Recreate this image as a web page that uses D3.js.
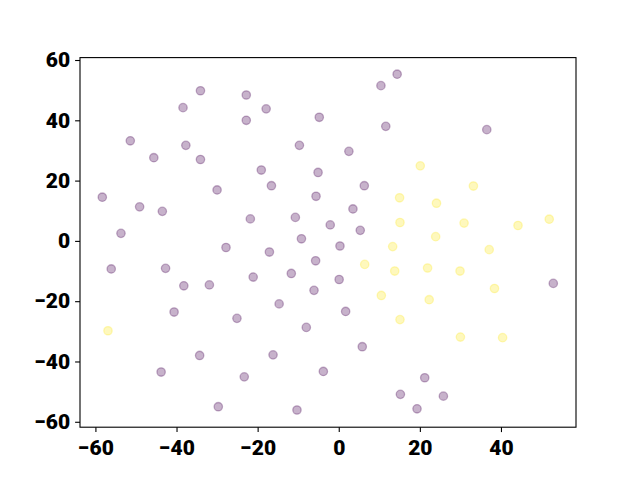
<!DOCTYPE html>
<html lang="en">
<head>
    <meta charset="UTF-8">
    <title>Scatter</title>
    <style>
        body { margin: 0; background: #fff; }
        svg { display: block; }
        .tick text { font-family: Roboto, "DejaVu Sans", sans-serif; font-weight: 900; font-size: 21px; fill: #000; }
    </style>
</head>
<body>
    <div id="container"></div>
    <script src="https://cdn.jsdelivr.net/npm/d3@7"></script>
    <script>
        // Class 0 points (purple)
        var purpleX = [-34.1, -38.4, -22.8, -17.9, -22.8, -51.4, -37.7, -45.6, -34.1, -9.7,
            -19.1, -16.6, -30.0, -58.3, -49.1, -43.5, -21.8, -10.7, -9.2, -53.7,
            14.4, 10.4, -4.8, 11.6, 36.5, 2.5, -5.1, 6.3, -5.6, 3.5, -2.1, 5.3,
            -56.1, -42.7, -27.8, -17.1, -11.7, -21.1, -38.2, -31.9, -14.7, -40.6,
            -25.1, -8.0, -34.3, -16.2, -43.8, -23.3, -29.7, -10.3,
            0.3, -5.7, 0.1, -6.1, 1.7, 5.8, -3.8, 21.2, 15.2, 25.8, 19.3, 52.9];
        var purpleY = [49.8, 44.2, 48.4, 43.8, 40.0, 33.2, 31.7, 27.6, 27.0, 31.7,
            23.5, 18.3, 16.9, 14.5, 11.3, 9.8, 7.3, 7.8, 0.7, 2.5,
            55.3, 51.5, 41.0, 38.0, 36.9, 29.7, 22.7, 18.3, 14.8, 10.6, 5.3, 3.5,
            -9.3, -9.1, -2.2, -3.7, -10.8, -12.0, -14.9, -14.6, -20.9, -23.6,
            -25.7, -28.7, -38.0, -37.8, -43.5, -45.1, -55.0, -56.1,
            -1.7, -6.6, -12.8, -16.4, -23.4, -35.1, -43.3, -45.4, -50.9, -51.5, -55.7, -14.1];

        // Class 1 points (yellow)
        var yellowX = [20.1, 33.2, 15.0, 24.1, 15.1, 30.9, 44.2, 51.9, 23.9, -56.9,
            13.3, 37.1, 6.4, 13.8, 21.9, 29.9, 38.4, 10.5, 22.3, 15.1, 30.0, 40.4];
        var yellowY = [24.9, 18.2, 14.3, 12.5, 6.1, 5.9, 5.1, 7.2, 1.4, -29.8,
            -1.9, -2.9, -7.8, -10.0, -9.0, -10.0, -15.8, -18.1, -19.5, -26.1, -31.9, -32.1];

        var xTicks = [-60, -40, -20, 0, 20, 40];
        var yTicks = [-60, -40, -20, 0, 20, 40, 60];

        var width = 640, height = 480;
        var margin = { left: 80, right: 64, top: 57.6, bottom: 52.8 };

        var svg = d3.select("#container").append("svg")
            .attr("width", width)
            .attr("height", height);

        var x = d3.scaleLinear()
            .domain([-63.8, 58.5])
            .range([margin.left, width - margin.right]);
        var y = d3.scaleLinear()
            .domain([-61.8, 60.8])
            .range([height - margin.bottom, margin.top]);

        var points = purpleX.map(function (d, i) { return { x: d, y: purpleY[i], c: "#440154" }; })
            .concat(yellowX.map(function (d, i) { return { x: d, y: yellowY[i], c: "#fde725" }; }));

        svg.append("g").selectAll("circle")
            .data(points)
            .enter()
            .append("circle")
            .attr("cx", function (d) { return x(d.x); })
            .attr("cy", function (d) { return y(d.y); })
            .attr("r", 4.2)
            .attr("fill", function (d) { return d.c; })
            .attr("fill-opacity", 0.3)
            .attr("stroke", function (d) { return d.c; })
            .attr("stroke-opacity", 0.3)
            .attr("stroke-width", 1.3);

        // Axes
        var xAxis = svg.append("g")
            .attr("transform", "translate(0," + (height - margin.bottom) + ")")
            .call(d3.axisBottom(x).tickValues(xTicks).tickSize(4.9).tickPadding(4.9).tickFormat(d3.format("d")));
        var yAxis = svg.append("g")
            .attr("transform", "translate(" + margin.left + ",0)")
            .call(d3.axisLeft(y).tickValues(yTicks).tickSize(4.9).tickPadding(4.9).tickFormat(d3.format("d")));

        [xAxis, yAxis].forEach(function (a) {
            a.select(".domain").remove();
            a.selectAll(".tick line").attr("stroke", "#000").attr("stroke-width", 1.1);
        });
        xAxis.selectAll(".tick text").attr("dy", "0.85em");

        // Frame
        svg.append("rect")
            .attr("x", margin.left)
            .attr("y", margin.top)
            .attr("width", width - margin.left - margin.right)
            .attr("height", height - margin.top - margin.bottom)
            .attr("fill", "none")
            .attr("stroke", "#000")
            .attr("stroke-width", 1.1);
    </script>
</body>
</html>
